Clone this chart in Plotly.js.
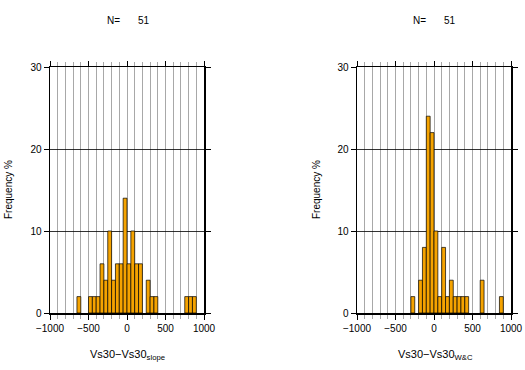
<!DOCTYPE html>
<html>
<head>
<meta charset="utf-8">
<script src="https://cdn.plot.ly/plotly-3.0.1.min.js"></script>
<style>html,body{margin:0;padding:0;background:#fff;}#chart{width:525px;height:370px;}</style>
</head>
<body>
<div id="chart"></div>
<script>
// Left histogram: Vs30 - Vs30_slope (bin centres, 50-wide bins) and frequency %
const binCentersSlope = [-625, -475, -425, -375, -325, -275, -225, -175, -125, -75, -25, 25, 75, 125, 175, 275, 325, 375, 775, 825, 875];
const freqSlope       = [2, 2, 2, 2, 6, 4, 10, 4, 6, 6, 14, 6, 10, 6, 6, 4, 2, 2, 2, 2, 2];
// Right histogram: Vs30 - Vs30_W&C
const binCentersWC = [-275, -175, -125, -75, -25, 25, 75, 125, 175, 225, 275, 325, 375, 425, 625, 875];
const freqWC       = [2, 4, 8, 24, 22, 10, 2, 8, 2, 4, 2, 2, 2, 2, 4, 2];
const xTickVals = [-1000, -500, 0, 500, 1000];
const xTickText = ['\u22121000', '\u2212500', '0', '500', '1000'];
const yTickVals = [0, 10, 20, 30];
const nCount = 51;

const FONT = 'Liberation Sans, Arial, Helvetica, sans-serif';
const barColor = 'rgb(245,163,0)';

function barTrace(x, y, xa, ya) {
  return {
    type: 'bar', x: x, y: y, width: 50, xaxis: xa, yaxis: ya,
    marker: {color: barColor, line: {color: '#000', width: 0.7}},
    hoverinfo: 'none', showlegend: false
  };
}

function xAxis(domain, anchor) {
  return {
    domain: domain, anchor: anchor, range: [-1000, 1000],
    tickmode: 'array', tickvals: xTickVals, ticktext: xTickText,
    showgrid: true, gridcolor: '#a8a8a8', gridwidth: 1,
    minor: {dtick: 100, tick0: 0, showgrid: true, gridcolor: '#a8a8a8', gridwidth: 1,
            ticks: 'outside', ticklen: 4, tickcolor: '#a8a8a8', tickwidth: 1},
    ticks: 'outside', ticklen: 5, tickwidth: 1, tickcolor: '#000',
    showline: true, linecolor: '#000', linewidth: 1.5, mirror: 'allticks',
    zeroline: false, fixedrange: true,
    tickfont: {family: FONT, size: 10, color: '#000'}
  };
}
function yAxis(anchor) {
  return {
    domain: [57/370, 303/370], anchor: anchor, range: [0, 30],
    tickmode: 'array', tickvals: yTickVals,
    showgrid: true, gridcolor: '#000', gridwidth: 0.8,
    ticks: 'outside', ticklen: 5, tickwidth: 1, tickcolor: '#000',
    showline: true, linecolor: '#000', linewidth: 1.5, mirror: 'allticks',
    zeroline: false, fixedrange: true,
    tickfont: {family: FONT, size: 10, color: '#000'}
  };
}

const ann = (text, x, y, size, extra) => Object.assign({
  text: text, x: x / 525, y: 1 - y / 370, xref: 'paper', yref: 'paper',
  showarrow: false, xanchor: 'center', yanchor: 'middle',
  font: {family: FONT, size: size, color: '#000'}
}, extra || {});

const layout = {
  width: 525, height: 370,
  margin: {l: 0, r: 0, t: 0, b: 0},
  paper_bgcolor: '#fff', plot_bgcolor: '#fff',
  bargap: 0,
  xaxis: xAxis([50/525, 204/525], 'y'),
  yaxis: yAxis('x'),
  xaxis2: xAxis([357/525, 511/525], 'y2'),
  yaxis2: yAxis('x2'),
  annotations: [
    ann('N=', 113.5, 20, 10),
    ann(String(nCount), 144, 20, 10),
    ann('N=', 419.5, 20, 10),
    ann(String(nCount), 450, 20, 10),
    ann('Frequency %', 8, 190, 10, {textangle: -90}),
    ann('Frequency %', 316, 190, 10, {textangle: -90}),
    ann('Vs30\u2212Vs30<sub>slope</sub>', 127, 355, 11),
    ann('Vs30\u2212Vs30<sub>W&C</sub>', 435, 355, 11)
  ]
};

Plotly.newPlot('chart', [
  barTrace(binCentersSlope, freqSlope, 'x', 'y'),
  barTrace(binCentersWC, freqWC, 'x2', 'y2')
], layout, {staticPlot: true, displayModeBar: false});
</script>
</body>
</html>
